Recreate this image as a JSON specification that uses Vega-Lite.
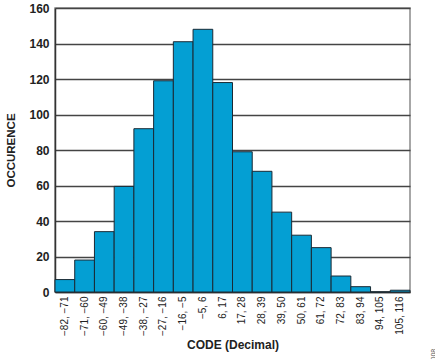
{
  "$schema": "https://vega.github.io/schema/vega-lite/v6.json",
  "autosize": "none",
  "width": 355,
  "height": 284,
  "padding": {"left": 55, "top": 8, "right": 25, "bottom": 67},
  "background": "white",
  "config": {
    "font": "Liberation Sans",
    "view": {"stroke": "#8a8a8a", "strokeWidth": 1.5}
  },
  "title": {
    "text": "008",
    "orient": "right",
    "anchor": "end",
    "angle": 270,
    "align": "left",
    "dx": -10,
    "fontSize": 7,
    "fontWeight": "normal",
    "color": "#555",
    "offset": 12
  },
  "data": {
    "values": [
      {"code": "−82, −71", "count": 7},
      {"code": "−71, −60", "count": 18},
      {"code": "−60, −49", "count": 34},
      {"code": "−49, −38", "count": 59.5},
      {"code": "−38, −27", "count": 92},
      {"code": "−27, −16", "count": 119},
      {"code": "−16, −5", "count": 141},
      {"code": "−5, 6", "count": 148},
      {"code": "6, 17", "count": 118},
      {"code": "17, 28", "count": 79},
      {"code": "28, 39", "count": 68},
      {"code": "39, 50", "count": 45},
      {"code": "50, 61", "count": 32},
      {"code": "61, 72", "count": 25},
      {"code": "72, 83", "count": 9},
      {"code": "83, 94", "count": 3},
      {"code": "94, 105", "count": 0},
      {"code": "105, 116", "count": 1}
    ]
  },
  "mark": {"type": "bar", "fill": "#049fd3", "stroke": "#1a2a35", "strokeWidth": 1},
  "encoding": {
    "x": {
      "field": "code",
      "type": "ordinal",
      "sort": null,
      "scale": {"paddingInner": 0, "paddingOuter": 0},
      "axis": {
        "title": "CODE (Decimal)",
        "titleFontSize": 12,
        "titleFontWeight": "bold",
        "titleColor": "#222",
        "titlePadding": 4,
        "labelAngle": -90,
        "labelFontSize": 10,
        "labelColor": "#222",
        "labelPadding": 4,
        "ticks": false,
        "domainColor": "#333",
        "domainWidth": 1.5
      }
    },
    "y": {
      "field": "count",
      "type": "quantitative",
      "scale": {"domain": [0, 160], "nice": false},
      "axis": {
        "title": "OCCURENCE",
        "titleFontSize": 11.5,
        "titleFontWeight": "bold",
        "titleColor": "#222",
        "titlePadding": 12,
        "values": [0, 20, 40, 60, 80, 100, 120, 140, 160],
        "labelFontSize": 12,
        "labelFontWeight": "bold",
        "labelColor": "#222",
        "labelPadding": 6,
        "ticks": false,
        "grid": true,
        "gridColor": "#444",
        "gridWidth": 1.3,
        "domainColor": "#333",
        "domainWidth": 1.5
      }
    }
  }
}
